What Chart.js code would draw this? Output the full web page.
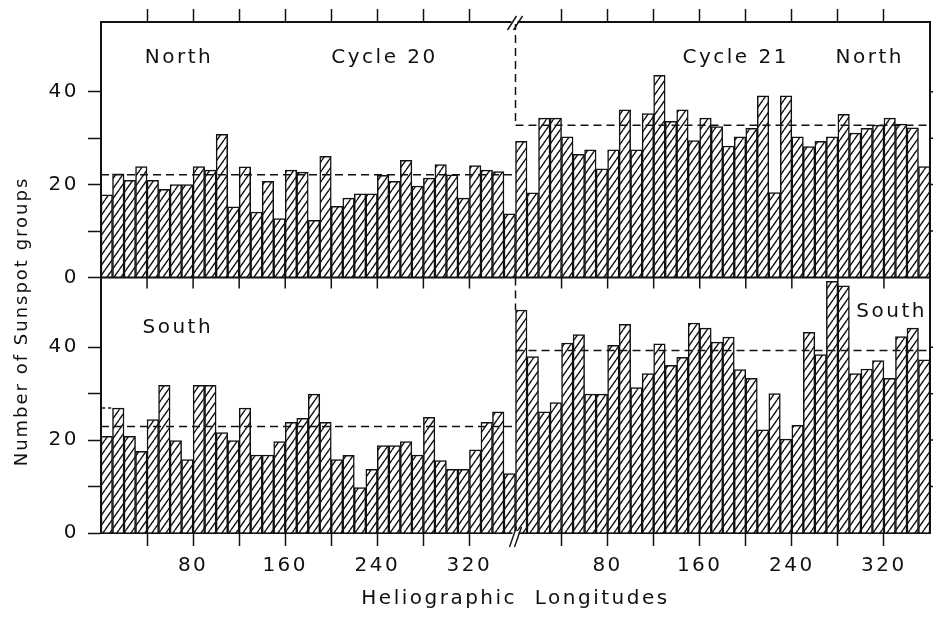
<!DOCTYPE html>
<html>
<head>
<meta charset="utf-8">
<script src="https://cdn.jsdelivr.net/npm/chart.js@4.4.1/dist/chart.umd.min.js"></script>
<style>
html, body { margin: 0; padding: 0; background: #fff; }
#wrap { width: 933px; height: 629px; }
</style>
</head>
<body>
<div id="wrap"><canvas id="myChart"></canvas></div>
<script>
//longitude bins (centre of each 10 degree bin)
const lonBins = [5, 15, 25, 35, 45, 55, 65, 75, 85, 95, 105, 115, 125, 135, 145, 155, 165, 175,
	185, 195, 205, 215, 225, 235, 245, 255, 265, 275, 285, 295, 305, 315, 325, 335, 345, 355];

//number of sunspot groups per bin
const northC20 = [17.8, 22.3, 20.9, 23.9, 20.9, 19.0, 20.0, 20.0, 23.9, 23.1, 30.8, 15.2, 23.8, 14.1, 20.7, 12.7, 23.1, 22.7,
	12.3, 26.1, 15.3, 17.1, 18.0, 18.0, 22.0, 20.7, 25.2, 19.7, 21.4, 24.3, 22.1, 17.1, 24.1, 23.1, 22.8, 13.7];
const northC21 = [29.3, 18.2, 34.3, 34.3, 30.3, 26.5, 27.5, 23.4, 27.5, 36.1, 27.5, 35.3, 43.5, 33.6, 36.1, 29.5, 34.3, 32.5,
	28.3, 30.3, 32.1, 39.1, 18.3, 39.1, 30.3, 28.2, 29.3, 30.3, 35.1, 31.1, 32.1, 32.8, 34.3, 33.0, 32.2, 23.9];
const southC20 = [20.8, 26.9, 20.8, 17.6, 24.4, 31.8, 19.9, 15.8, 31.8, 31.8, 21.6, 19.9, 26.9, 16.8, 16.8, 19.7, 23.8, 24.7,
	29.9, 23.8, 15.8, 16.7, 9.8, 13.7, 18.8, 18.8, 19.7, 16.8, 24.9, 15.6, 13.7, 13.7, 17.9, 23.8, 26.1, 12.8];
const southC21 = [48.0, 38.0, 26.1, 28.1, 40.9, 42.7, 29.9, 29.9, 40.4, 44.9, 31.3, 34.3, 40.7, 36.1, 37.8, 45.2, 44.1, 41.1,
	42.2, 35.2, 33.3, 22.2, 30.0, 20.2, 23.2, 43.2, 38.4, 54.2, 53.2, 34.3, 35.3, 37.1, 33.3, 42.3, 44.1, 37.3];

//mean levels (dashed lines) for cycle 20 and cycle 21
const meanNorth = [22.1, 32.8];
const meanSouth = [22.9, 39.3];
const southStub = 26.9;

const CYCLE_SHIFT = 360;
const Y_MAX = 55;
const INK = '#111';
const HATCH_W = 7;
const HATCH_H = 10;

Chart.defaults.font.family = '"DejaVu Sans", sans-serif';
Chart.defaults.color = INK;

//diagonal hatch fill for the bars
var makeHatch = function() {
	var c = document.createElement('canvas');
	c.width = HATCH_W;
	c.height = HATCH_H;
	var g = c.getContext('2d');
	g.fillStyle = '#fff';
	g.fillRect(0, 0, HATCH_W, HATCH_H);
	g.strokeStyle = INK;
	g.lineWidth = 1.4;
	g.beginPath();
	[-HATCH_W, 0, HATCH_W].forEach(function(dx) {
		g.moveTo(dx, HATCH_H);
		g.lineTo(dx + HATCH_W, 0);
	});
	g.stroke();
	return g.createPattern(c, 'repeat');
};

//join the two cycles onto one longitude axis (cycle 21 shifted by 360)
var toPoints = function(c20, c21) {
	var pts = c20.map(function(v, i) { return {x: lonBins[i], y: v}; });
	return pts.concat(c21.map(function(v, i) { return {x: CYCLE_SHIFT + lonBins[i], y: v}; }));
};

//drop the ticks at 0, 360 and 720
var keepInnerTicks = function(axis) {
	axis.ticks = axis.ticks.filter(function(t) { return t.value % 360 !== 0; });
};
var keepTens = function(axis) {
	axis.ticks = axis.ticks.filter(function(t) { return t.value % 10 === 0; });
};

//labels written inside the panels
const notes = [
	{text: 'North', lon: 38, val: 46.1, axis: 'yN'},
	{text: 'Cycle 20', lon: 200, val: 46.1, axis: 'yN'},
	{text: 'Cycle 21', lon: 505, val: 46.1, axis: 'yN'},
	{text: 'North', lon: 638, val: 46.1, axis: 'yN'},
	{text: 'South', lon: 36, val: 43.1, axis: 'yS'},
	{text: 'South', lon: 656, val: 46.4, axis: 'yS'}
];

var decorPlugin = {
	id: 'decor',
	beforeDraw: function(chart) {
		chart.ctx.letterSpacing = '2.5px';
	},
	afterDatasetsDraw: function(chart) {
		var ctx = chart.ctx;
		var x = chart.scales.x, yN = chart.scales.yN, yS = chart.scales.yS;
		var area = chart.chartArea;
		ctx.save();
		ctx.strokeStyle = INK;
		//right edge and the line between the panels
		ctx.lineWidth = 2;
		ctx.beginPath();
		ctx.moveTo(area.right, yN.top);
		ctx.lineTo(area.right, yS.bottom);
		ctx.moveTo(area.left, yN.bottom);
		ctx.lineTo(area.right, yN.bottom);
		ctx.stroke();
		//ticks on the middle line and on the right edge
		ctx.lineWidth = 1.5;
		ctx.beginPath();
		x.ticks.forEach(function(t) {
			var px = x.getPixelForValue(t.value);
			ctx.moveTo(px, yN.bottom);
			ctx.lineTo(px, yN.bottom + 11);
		});
		[yN, yS].forEach(function(s) {
			s.ticks.forEach(function(t) {
				if (t.value === 0) return;
				var py = s.getPixelForValue(t.value);
				ctx.moveTo(area.right, py);
				ctx.lineTo(area.right + 12, py);
			});
		});
		ctx.stroke();
		//axis break marks at the cycle boundary
		var bx = x.getPixelForValue(CYCLE_SHIFT);
		var y0 = yN.top, y1 = yS.bottom;
		ctx.fillStyle = '#fff';
		ctx.fillRect(bx - 4, y0 - 2, 6, 4);
		ctx.fillRect(bx - 3, y1 - 2, 6, 4);
		ctx.lineWidth = 1.4;
		ctx.beginPath();
		ctx.moveTo(bx - 8, y0 + 8); ctx.lineTo(bx + 1, y0 - 6);
		ctx.moveTo(bx - 2, y0 + 8); ctx.lineTo(bx + 7, y0 - 6);
		ctx.moveTo(bx - 6, y1 + 14); ctx.lineTo(bx + 1, y1 - 6);
		ctx.moveTo(bx - 1, y1 + 14); ctx.lineTo(bx + 6, y1 - 6);
		ctx.stroke();
		//panel labels
		ctx.fillStyle = INK;
		ctx.font = '20px "DejaVu Sans"';
		ctx.letterSpacing = '2.5px';
		ctx.textAlign = 'left';
		ctx.textBaseline = 'alphabetic';
		notes.forEach(function(n) {
			var s = chart.scales[n.axis];
			ctx.fillText(n.text, x.getPixelForValue(n.lon), s.getPixelForValue(n.val));
		});
		//y axis title, shared by both panels
		ctx.translate(22, (yN.top + yS.bottom) / 2 + 44);
		ctx.rotate(-Math.PI / 2);
		ctx.textAlign = 'center';
		ctx.textBaseline = 'middle';
		ctx.font = '18px "DejaVu Sans"';
		ctx.letterSpacing = '2px';
		ctx.fillText('Number of Sunspot groups', 0, 0);
		ctx.restore();
	}
};

var hatch = makeHatch();

var barSet = function(label, pts, axisId) {
	return {
		type: 'bar',
		label: label,
		data: pts,
		yAxisID: axisId,
		grouped: false,
		backgroundColor: hatch,
		borderColor: INK,
		borderWidth: 1.5,
		barPercentage: 1,
		categoryPercentage: 1,
		order: 2
	};
};
var dashSet = function(pts, axisId, dash) {
	return {
		type: 'line',
		data: pts,
		yAxisID: axisId,
		borderColor: INK,
		borderWidth: 1.5,
		borderDash: dash || [8, 5],
		pointRadius: 0,
		fill: false,
		order: 1
	};
};

var yAxis = function() {
	return {
		type: 'linear',
		position: 'left',
		stack: 'lat',
		stackWeight: 1,
		min: 0,
		max: Y_MAX,
		offset: false,
		afterBuildTicks: keepTens,
		afterFit: function(s) { s.width = 101; },
		grid: { display: true, drawOnChartArea: false, tickLength: 13, tickWidth: 1.5, tickColor: INK },
		border: { display: true, color: INK, width: 2 },
		ticks: {
			stepSize: 10,
			padding: 9,
			color: INK,
			font: { size: 20 },
			callback: function(v) { return (v % 20 === 0 && v <= 40) ? String(v) : ''; }
		}
	};
};

var ctx = document.getElementById('myChart');
var chart = new Chart(ctx, {
	type: 'bar',
	data: {
		datasets: [
			barSet('North', toPoints(northC20, northC21), 'yN'),
			barSet('South', toPoints(southC20, southC21), 'yS'),
			dashSet([{x: 0, y: meanNorth[0]}, {x: CYCLE_SHIFT, y: meanNorth[0]}], 'yN'),
			dashSet([{x: CYCLE_SHIFT, y: meanNorth[1]}, {x: 2 * CYCLE_SHIFT, y: meanNorth[1]}], 'yN'),
			dashSet([{x: CYCLE_SHIFT, y: Y_MAX}, {x: CYCLE_SHIFT, y: meanNorth[1]}], 'yN'),
			dashSet([{x: 0, y: meanSouth[0]}, {x: CYCLE_SHIFT, y: meanSouth[0]}], 'yS'),
			dashSet([{x: CYCLE_SHIFT, y: meanSouth[1]}, {x: 2 * CYCLE_SHIFT, y: meanSouth[1]}], 'yS'),
			dashSet([{x: CYCLE_SHIFT, y: Y_MAX}, {x: CYCLE_SHIFT, y: southC21[0]}], 'yS'),
			dashSet([{x: 1, y: southStub}, {x: 9, y: southStub}], 'yS', [3, 3])
		]
	},
	options: {
		responsive: true,
		maintainAspectRatio: false,
		animation: false,
		layout: { padding: { top: 9, right: 3, bottom: 0, left: 0 } },
		plugins: { legend: { display: false }, tooltip: { enabled: false } },
		scales: {
			x: {
				type: 'linear',
				min: 0,
				max: 2 * CYCLE_SHIFT,
				offset: false,
				afterBuildTicks: keepInnerTicks,
				afterFit: function(s) { s.height = 96; },
				grid: { display: true, drawOnChartArea: false, offset: false, tickLength: 13, tickWidth: 1.5, tickColor: INK },
				border: { display: true, color: INK, width: 2 },
				ticks: {
					stepSize: 40,
					autoSkip: false,
					maxRotation: 0,
					padding: 8,
					color: INK,
					font: { size: 20 },
					callback: function(v) { var lon = v % 360; return lon % 80 === 0 ? String(lon) : ''; }
				},
				title: { display: true, text: 'Heliographic  Longitudes', color: INK, font: { size: 20 }, padding: { top: 0, bottom: 18 } }
			},
			x2: {
				type: 'linear',
				position: 'top',
				min: 0,
				max: 2 * CYCLE_SHIFT,
				offset: false,
				afterBuildTicks: keepInnerTicks,
				afterFit: function(s) { s.height = 13; },
				grid: { display: true, drawOnChartArea: false, offset: false, tickLength: 13, tickWidth: 1.5, tickColor: INK },
				border: { display: true, color: INK, width: 2 },
				ticks: { display: false, stepSize: 40 }
			},
			yS: yAxis(),
			yN: yAxis()
		}
	},
	plugins: [decorPlugin]
});
</script>
</body>
</html>
